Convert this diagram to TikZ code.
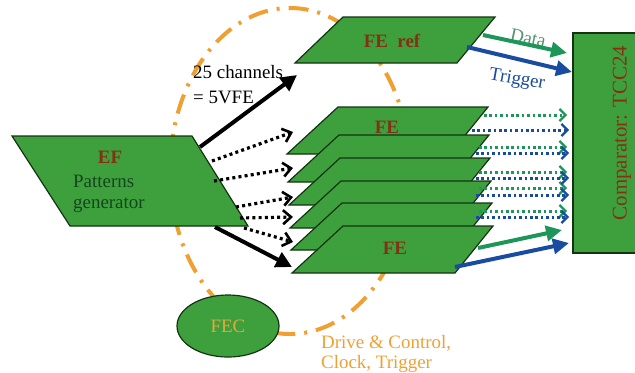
\documentclass[tikz,border=0pt]{standalone}
\usepackage{fontspec}
\setmainfont{Liberation Serif}
\usetikzlibrary{arrows.meta,shapes.geometric}
\definecolor{fegreen}{RGB}{62,160,60}
\definecolor{edgec}{RGB}{20,50,20}
\definecolor{brownt}{RGB}{130,50,20}
\definecolor{dkgreen}{RGB}{20,70,30}
\definecolor{orangec}{RGB}{240,160,50}
\definecolor{datag}{RGB}{30,150,90}
\definecolor{datat}{RGB}{80,150,110}
\definecolor{trigb}{RGB}{25,75,160}
\definecolor{fectext}{RGB}{225,170,60}
\tikzset{
  shapebox/.style={fill=fegreen, draw=edgec, line width=1.2bp, line join=miter},
  lbl/.style={font=\fontsize{19}{20}\selectfont, inner sep=0pt},
  fetext/.style={inner sep=0pt, font=\fontsize{19}{20}\selectfont\bfseries, text=brownt},
  bigarrow/.style={line width=4bp, -{Triangle[length=16bp,width=16bp]}},
  colarrow/.style={line width=4bp, -{Triangle[length=16bp,width=15bp]}},
  dotarrow/.style={line width=3.2bp, dash pattern=on 3bp off 3.2bp, -{Straight Barb[length=8bp,width=14bp,line width=2.6bp]}},
  dotarrowc/.style={line width=3bp, dash pattern=on 2.6bp off 2.8bp, -{Straight Barb[length=6bp,width=12bp,line width=2.2bp]}},
}
\begin{document}
\begin{tikzpicture}[x=1bp,y=-1bp]
\useasboundingbox (0,0) rectangle (635,372);
% orange dash-dot ring
\draw[orangec, line width=4bp, dash pattern=on 20bp off 9bp on 3bp off 9bp] (290,171) ellipse [x radius=120bp, y radius=163bp];
% EF
\draw[shapebox] (12,136) -- (192,136) -- (248,226) -- (70,226) -- cycle;
\node[fetext] (ef) at (110,157) {EF};
\node[lbl, text=dkgreen, anchor=west] (pat) at (73,181) {Patterns};
\node[lbl, text=dkgreen, anchor=west] (gen) at (73,205) {generator};
% FE ref
\draw[shapebox] (343,17) -- (495,17) -- (457,63) -- (295,63) -- cycle;
\node[fetext] (feref) at (392,41) {FE\ \ ref};
% FE stack
\foreach \dx/\dy in {-5/-119,-4/-91,-3/-68,-2/-45,-1/-23,0/0}{
  \draw[shapebox, shift={(\dx,\dy)}] (343,226) -- (493,226) -- (455,273) -- (292,273) -- cycle;
}
\node[fetext] (fetop) at (387,127) {FE};
\node[fetext] (febot) at (395,248) {FE};
% comparator
\draw[shapebox] (573,33) rectangle (650,253);
\node[inner sep=0pt, font=\fontsize{21}{22}\selectfont, text=brownt, rotate=90] (comp) at (622,133) {Comparator: TCC24};
% FEC
\node[ellipse, fill=fegreen, draw=edgec, line width=1.2bp, minimum width=102bp, minimum height=62bp, inner sep=0pt, font=\fontsize{19}{20}\selectfont, text=fectext] (fec) at (228,326) {FEC};
% black arrows
\coordinate (a1s) at (200,147); \coordinate (a1e) at (297,75);
\coordinate (a2s) at (215,227); \coordinate (a2e) at (292,267);
\draw[bigarrow] (a1s) -- (a1e);
\draw[bigarrow] (a2s) -- (a2e);
% dotted black arrows
\foreach \i/\sx/\sy/\ey in {1/212/161/132, 2/214/181/168, 3/236/207/197, 4/240/218/217, 5/244/228/242}{
  \coordinate (d\i s) at (\sx,\sy); \coordinate (d\i e) at (293,\ey);
  \draw[dotarrow] (d\i s) -- (d\i e);
}
% dotted right arrows
\foreach \i/\sx/\y in {1/484/115, 2/479/147, 3/479/172, 4/479/188, 5/479/211}{
  \coordinate (g\i s) at (\sx,\y); \coordinate (g\i e) at (567,\y);
  \draw[dotarrowc, datag] (g\i s) -- (g\i e);
}
\foreach \i/\sx/\y in {1/472/130, 2/476/153, 3/476/178, 4/476/195, 5/476/217}{
  \coordinate (b\i s) at (\sx,\y); \coordinate (b\i e) at (569,\y);
  \draw[dotarrowc, trigb] (b\i s) -- (b\i e);
}
% colour arrows
\coordinate (dts) at (483,35); \coordinate (dte) at (567,53);
\coordinate (trs) at (467,47); \coordinate (tre) at (572,72);
\coordinate (gbs) at (478,248); \coordinate (gbe) at (562,230);
\coordinate (bbs) at (455,267); \coordinate (bbe) at (569,243);
\node[lbl, text=datat, rotate=-12] (data) at (528,38) {Data};
\draw[colarrow, datag] (dts) -- (dte);
\draw[colarrow, trigb] (trs) -- (tre);
\draw[colarrow, datag] (gbs) -- (gbe);
\draw[colarrow, trigb] (bbs) -- (bbe);
\node[lbl, text=trigb, rotate=-10] (trig) at (517,80) {Trigger};
% labels
\node[lbl, anchor=west] (ch) at (193,72) {25 channels};
\node[lbl, anchor=west] (vfe) at (193,97) {= 5VFE};
\node[lbl, anchor=base west, text=orangec] (drv) at (321,348) {Drive \& Control,};
\node[lbl, anchor=base west, text=orangec] (clk) at (321,368) {Clock, Trigger};
\end{tikzpicture}
\end{document}
